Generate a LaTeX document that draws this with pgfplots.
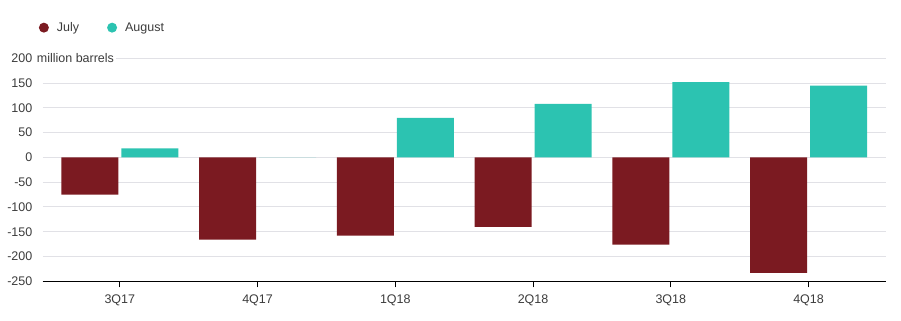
\documentclass[border=0pt]{standalone}
\usepackage{fontspec}
\setmainfont{Liberation Sans}
\usepackage{pgfplots}
\pgfplotsset{compat=1.18}
\definecolor{julyc}{HTML}{7B1A21}
\definecolor{augc}{HTML}{2CC3B1}
\definecolor{gridc}{HTML}{E1E1E6}
\definecolor{txt}{HTML}{3C3C3C}
\begin{document}
\fontsize{12.5bp}{14bp}\selectfont
\begin{tikzpicture}
\useasboundingbox (0,0) rectangle (901bp,321bp);
\begin{axis}[
  at={(42.7bp,39.7bp)}, anchor=south west,
  scale only axis, width=843bp, height=223bp,
  xmin=-0.56, xmax=5.56, ymin=-250, ymax=200,
  ybar=3bp, bar width=57bp,
  xtick={0,1,2,3,4,5},
  xticklabels={3Q17,4Q17,1Q18,2Q18,3Q18,4Q18},
  ytick={-250,-200,-150,-100,-50,0,50,100,150,200},
  yticklabels={-250,-200,-150,-100,-50,0,50,100,150,200},
  tick align=outside, major tick length=6bp,
  axis x line*=bottom, axis y line*=left,
  x axis line style={-, black, line width=1bp},
  y axis line style={draw=none},
  xtick style={black, line width=1bp},
  ytick style={draw=none},
  ymajorgrids, major grid style={gridc, line width=1bp},
  ticklabel style={text=txt, font=\fontsize{12.5bp}{14bp}\selectfont},
  xticklabel style={yshift=-3bp},
  clip=false,
  legend columns=-1,
  legend style={draw=none, fill=none, at={(0,1)}, anchor=south west,
    xshift=-7bp, yshift=21bp, font=\fontsize{12.5bp}{14bp}\selectfont, text=txt,
    /tikz/every odd column/.append style={column sep=6bp},
    /tikz/every even column/.append style={column sep=26bp}},
  legend image code/.code={\fill (5bp,0bp) circle (5bp);},
]
\addplot[fill=julyc, draw=none] coordinates {(0,-75) (1,-166) (2,-158) (3,-140) (4,-176) (5,-233)};
\addplot[fill=augc, draw=none] coordinates {(0,18) (1,0) (2,80) (3,108) (4,152) (5,145)};
\legend{July, August}
\node[anchor=west, fill=white, inner xsep=2bp, inner ysep=1bp, text=txt] at ([xshift=-8bp]axis cs:-0.56,200) {million barrels};
\end{axis}
\end{tikzpicture}
\end{document}
